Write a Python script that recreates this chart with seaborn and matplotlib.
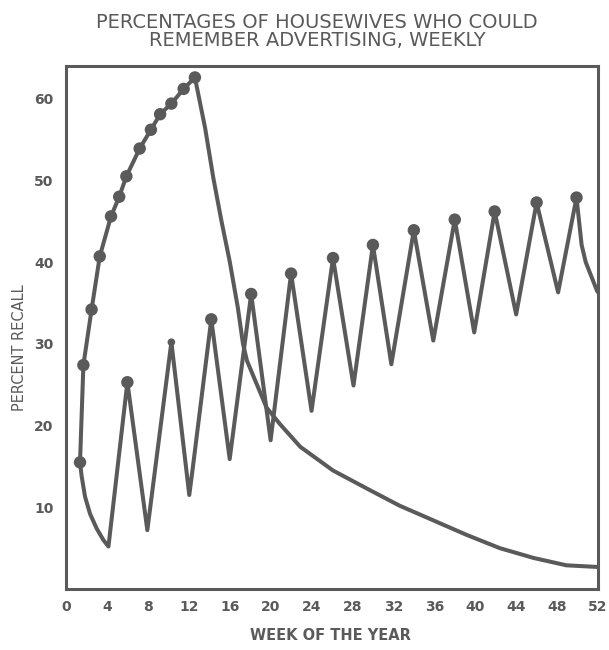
import matplotlib
matplotlib.use("Agg")
import matplotlib.pyplot as plt
import seaborn as sns
import pandas as pd

# ---- data ----
# Group A: 13 consecutive weekly exposures, then decay
a_dot_week = [1.37, 1.7, 2.5, 3.3, 4.4, 5.2, 5.9, 7.2, 8.3, 9.2, 10.3, 11.5, 12.6]
a_dot_pct = [15.5, 27.4, 34.2, 40.7, 45.6, 48.0, 50.5, 53.9, 56.2, 58.1, 59.4, 61.2, 62.6]
a_decay_week = [13.6, 14.4, 15.2, 16.0, 16.8, 17.3, 17.7, 18.5, 19.6, 20.9, 22.9,
                26.1, 29.4, 32.6, 35.9, 39.2, 42.4, 45.7, 48.9, 51.9, 52.0]
a_decay_pct = [56.4, 50.3, 45.0, 40.1, 34.4, 30.0, 27.9, 25.5, 22.2, 20.2, 17.4,
               14.5, 12.3, 10.2, 8.4, 6.6, 5.0, 3.8, 2.9, 2.7, 2.7]

# Group B: 13 exposures, one every 4 weeks
b_line_week = [1.37, 1.53, 1.86, 2.35, 3.0, 3.65, 4.15, 6.0, 7.95, 10.3, 12.05, 12.4,
               14.2, 16.0, 18.1, 20.0, 22.0, 24.0, 26.1, 28.1, 30.0, 31.8, 34.0,
               35.9, 38.0, 39.9, 41.9, 44.0, 46.0, 48.1, 49.9, 50.4, 50.8, 51.9, 52.0]
b_line_pct = [15.5, 13.8, 11.3, 9.2, 7.4, 6.0, 5.2, 25.3, 7.2, 30.2, 11.5, 14.9,
              33.0, 15.9, 36.1, 18.2, 38.6, 21.8, 40.5, 24.9, 42.1, 27.5, 43.9,
              30.4, 45.2, 31.4, 46.2, 33.6, 47.3, 36.3, 47.9, 42.1, 40.0, 36.5, 36.3]
b_dot_week = [6.0, 14.2, 18.1, 22.0, 26.1, 30.0, 34.0, 38.0, 41.9, 46.0, 49.9]
b_dot_pct = [25.3, 33.0, 36.1, 38.6, 40.5, 42.1, 43.9, 45.2, 46.2, 47.3, 47.9]
b_small_dot_week = [10.3]
b_small_dot_pct = [30.2]

x_ticks = list(range(0, 53, 4))
y_ticks = [10, 20, 30, 40, 50, 60]

title_lines = ["PERCENTAGES OF HOUSEWIVES WHO COULD", "REMEMBER ADVERTISING, WEEKLY"]
x_label = "WEEK OF THE YEAR"
y_label = "PERCENT RECALL"

# ---- build frames ----
line_a = pd.DataFrame({"week": a_dot_week + a_decay_week,
                       "pct": a_dot_pct + a_decay_pct})
line_b = pd.DataFrame({"week": b_line_week, "pct": b_line_pct})
dots = pd.DataFrame({"week": a_dot_week + b_dot_week, "pct": a_dot_pct + b_dot_pct})
small = pd.DataFrame({"week": b_small_dot_week, "pct": b_small_dot_pct})

sns.set_style("white")
plt.rcParams["font.family"] = ["DejaVu Sans"]
ink = "#5a5a5a"

fig = plt.figure(figsize=(6.09, 6.5), dpi=100)
ax = fig.add_axes([66 / 609, 1 - 589 / 650, (598 - 66) / 609, (589 - 66) / 650])

line_kw = dict(color=ink, linewidth=2.9, solid_joinstyle="round", solid_capstyle="round")
sns.lineplot(data=line_a, x="week", y="pct", sort=False, estimator=None, ax=ax, **line_kw)
sns.lineplot(data=line_b, x="week", y="pct", sort=False, estimator=None, ax=ax, **line_kw)
sns.scatterplot(data=dots, x="week", y="pct", color=ink, s=80, edgecolor="none",
                ax=ax, zorder=5)
sns.scatterplot(data=small, x="week", y="pct", color=ink, s=30, edgecolor="none",
                ax=ax, zorder=5)

ax.set_xlim(0, 52)
ax.set_ylim(0, 64)
ax.set_xticks(x_ticks)
ax.set_xticklabels([str(t) for t in x_ticks], fontsize=10, fontweight="bold", color=ink)
ax.set_yticks(y_ticks)
ax.set_yticklabels([str(t) for t in y_ticks], fontsize=10, fontweight="bold", color=ink)
ax.tick_params(axis="x", direction="in", length=5, width=2, color=ink, pad=8)
ax.tick_params(axis="y", direction="in", length=5, width=2, color=ink, pad=9)
ax.set_xlabel("")
ax.set_ylabel("")
for sp in ax.spines.values():
    sp.set_color(ink)
    sp.set_linewidth(2.2)
    sp.set_visible(True)

fig.text(317 / 609, 1 - 23 / 650, title_lines[0], ha="center", va="center",
         fontsize=14, color=ink)
fig.text(317 / 609, 1 - 41 / 650, title_lines[1], ha="center", va="center",
         fontsize=14, color=ink)
fig.text(20 / 609, 1 - 348 / 650, y_label, rotation=90, ha="center", va="center",
         fontsize=10.5, color=ink)
fig.text(330 / 609, 1 - 635 / 650, x_label, ha="center", va="center",
         fontsize=10.5, fontweight="bold", color=ink)

fig.savefig("out.png", dpi=100)
